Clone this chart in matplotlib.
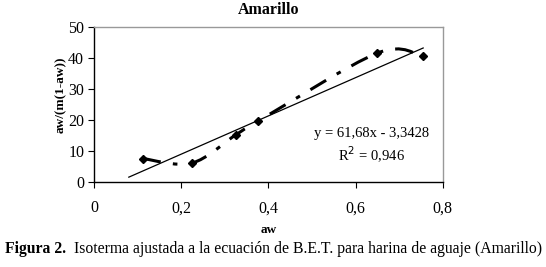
import matplotlib
matplotlib.use("Agg")
import matplotlib.pyplot as plt
from matplotlib.path import Path
from matplotlib.patches import PathPatch
import numpy as np

plt.rcParams['font.family'] = ['Liberation Serif', 'DejaVu Serif']

aw = [0.112, 0.224, 0.326, 0.376, 0.650, 0.755]
bet = [7.6, 6.1, 15.3, 19.6, 41.6, 40.5]
slope, intercept = 61.68, -3.3428
fit_x = [0.08, 0.755]
xticks = [0, 0.2, 0.4, 0.6, 0.8]
xticklabels = ['0', '0,2', '0,4', '0,6', '0,8']
yticks = [0, 10, 20, 30, 40, 50]

fig = plt.figure(figsize=(5.46, 2.67), dpi=100)
ax = fig.add_axes([0.172, 0.318, 0.639, 0.581])
ax.set_xlim(0, 0.8)
ax.set_ylim(0, 50)

# smoothed (Excel-like) line through the data, rendered as Bezier path
xs = np.array(aw); ys = np.array(bet)
verts = [(xs[0], ys[0])]
codes = [Path.MOVETO]
n = len(xs)
for i in range(n - 1):
    p0 = (xs[max(i - 1, 0)], ys[max(i - 1, 0)])
    p1 = (xs[i], ys[i]); p2 = (xs[i + 1], ys[i + 1])
    p3 = (xs[min(i + 2, n - 1)], ys[min(i + 2, n - 1)])
    c1 = (p1[0] + (p2[0] - p0[0]) / 6, p1[1] + (p2[1] - p0[1]) / 6)
    c2 = (p2[0] - (p3[0] - p1[0]) / 6, p2[1] - (p3[1] - p1[1]) / 6)
    verts += [c1, c2, p2]
    codes += [Path.CURVE4] * 3
patch = PathPatch(Path(verts, codes), facecolor='none', edgecolor='black',
                  lw=2.2, linestyle=(0, (6, 4, 1.5, 4)), zorder=3)
ax.add_patch(patch)
ax.plot(aw, bet, linestyle='none', marker='D', ms=4, color='black', zorder=4)

fx = np.array(fit_x)
ax.plot(fx, slope * fx + intercept, color='black', lw=0.9, zorder=2)

ax.text(0.637, 15.8, 'y = 61,68x - 3,3428', ha='center', va='center', fontsize=10.5)
ax.text(0.637, 8.8, 'R$^2$ = 0,946', ha='center', va='center', fontsize=10.5)

ax.set_xticks(xticks)
ax.set_xticklabels(xticklabels)
ax.set_yticks(yticks)
ax.tick_params(axis='x', direction='out', length=4, width=0.8, pad=9, labelsize=11.5)
ax.tick_params(axis='y', direction='out', length=4, width=0.8, pad=3, labelsize=11.5)
for s in ['left', 'bottom']:
    ax.spines[s].set_color('black'); ax.spines[s].set_linewidth(1.0)
for s in ['top', 'right']:
    ax.spines[s].set_color('#999999'); ax.spines[s].set_linewidth(1.0)

ax.set_title('Amarillo', fontsize=11.5, fontweight='bold', pad=9)
ax.set_xlabel('aw', fontsize=9.5, fontweight='bold', labelpad=6)
ax.set_ylabel('aw/(m(1-aw))', fontsize=9.5, fontweight='bold')
ax.yaxis.set_label_coords(-0.078, 0.56)

t1 = fig.text(0.01, 0.068, 'Figura 2.', fontsize=11.3, fontweight='bold', ha='left', va='center')
fig.canvas.draw()
bb = t1.get_window_extent()
x2 = bb.x1 / fig.bbox.width + 0.013
fig.text(x2, 0.068, 'Isoterma ajustada a la ecuación de B.E.T. para harina de aguaje (Amarillo)',
         fontsize=11.3, ha='left', va='center')

fig.savefig('out.png', dpi=100)
